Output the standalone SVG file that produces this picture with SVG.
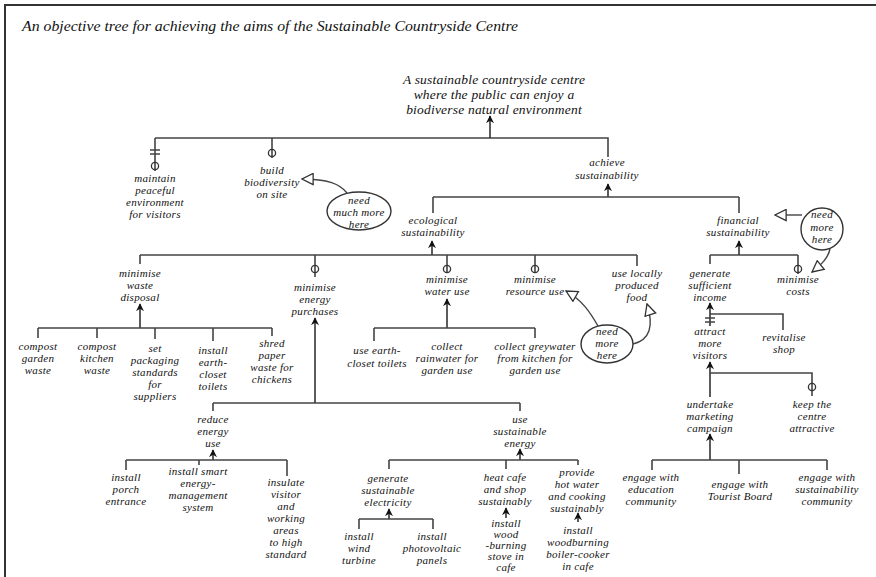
<svg xmlns="http://www.w3.org/2000/svg" width="876" height="577" viewBox="0 0 876 577">
  <style>
    .t { font-family: "Liberation Serif", "DejaVu Serif", serif; font-style: italic; font-size: 11px; letter-spacing: 0.3px; fill: #111; text-anchor: middle; }
    .big { font-size: 13.5px; letter-spacing: 0.2px; }
    .title { font-family: "Liberation Serif", "DejaVu Serif", serif; font-style: italic; font-size: 14px; fill: #111; }
    .ln { fill: none; stroke: #444; stroke-width: 1.6; }
    .ar { fill: none; stroke: #333; stroke-width: 1.6; marker-end: url(#arrow); }
    .note { fill: none; stroke: #444; stroke-width: 1.4; marker-end: url(#hollow); }
    .ring { fill: none; stroke: #333; stroke-width: 1.3; }
    .bubble { fill: #fff; stroke: #333; stroke-width: 1.4; }
  </style>
  <defs>
    <marker id="arrow" viewBox="0 0 10 10" refX="9" refY="5" markerWidth="8" markerHeight="8" markerUnits="userSpaceOnUse" orient="auto">
      <path d="M0,0 L10,5 L0,10 L3,5 z" fill="#111"/>
    </marker>
    <marker id="hollow" viewBox="0 0 14 14" refX="13" refY="7" markerWidth="13" markerHeight="13" markerUnits="userSpaceOnUse" orient="auto">
      <path d="M1,1 L13,7 L1,13 z" fill="#fff" stroke="#333" stroke-width="1.4"/>
    </marker>
  </defs>

  <rect width="876" height="577" fill="#fff"/>
  <!-- frame -->
  <path d="M5,577 V5 H876" fill="none" stroke="#333" stroke-width="2"/>

  <text class="title" x="22" y="31" textLength="496" lengthAdjust="spacingAndGlyphs">An  objective tree for achieving the aims of the Sustainable Countryside Centre</text>

  <g id="connectors">
    <!-- top level -->
    <path class="ln" d="M155,138 H608 V157 M155,138 V171 M272,138 V158"/>
    <path class="ar" d="M490,138 V116"/>
    <path class="ln" d="M150,150 H160 M150,154 H160"/>
    <circle class="ring" cx="155" cy="166" r="3.6"/>
    <circle class="ring" cx="272" cy="153" r="3.6"/>
    <!-- achieve sustainability -->
    <path class="ar" d="M608,197 V184"/>
    <path class="ln" d="M433,197 H739 M433,197 V213 M739,197 V213"/>
    <!-- ecological -->
    <path class="ar" d="M432,255 V241"/>
    <path class="ln" d="M140,255 H637 M140,255 V264 M315,255 V277 M447,255 V273 M535,255 V273 M637,255 V266"/>
    <circle class="ring" cx="315" cy="269" r="3.6"/>
    <circle class="ring" cx="447" cy="269" r="3.6"/>
    <circle class="ring" cx="535" cy="269" r="3.6"/>
    <!-- financial -->
    <path class="ar" d="M739,255 V241"/>
    <path class="ln" d="M710,255 H798 M710,255 V264 M798,255 V274"/>
    <circle class="ring" cx="798" cy="269" r="3.6"/>
    <!-- waste -->
    <path class="ar" d="M140,328 V304"/>
    <path class="ln" d="M38,328 H272 M38,328 V338 M97,328 V338 M155,328 V339 M213,328 V341 M272,328 V336"/>
    <!-- water -->
    <path class="ar" d="M447,328 V299"/>
    <path class="ln" d="M374,328 H535 M374,328 V341 M535,328 V338"/>
    <!-- energy purchases -->
    <path class="ar" d="M315,403 V318"/>
    <path class="ln" d="M213,403 H520 M213,403 V411 M520,403 V411"/>
    <!-- reduce energy use -->
    <path class="ar" d="M213,460 V450"/>
    <path class="ln" d="M126,460 H287 M126,460 V470 M199,460 V465 M287,460 V476"/>
    <!-- use sustainable energy -->
    <path class="ar" d="M520,460 V449"/>
    <path class="ln" d="M389,460 H578 M389,460 V469 M506,460 V469 M578,460 V465"/>
    <!-- generate sustainable electricity -->
    <path class="ar" d="M389,519 V509"/>
    <path class="ln" d="M359,519 H433 M359,519 V529 M433,519 V529"/>
    <path class="ar" d="M506,518 V508"/>
    <path class="ar" d="M578,522 V513"/>
    <!-- income -->
    <path class="ar" d="M710,326 V303"/>
    <path class="ln" d="M710,314 H783 V330 M705,318 H715 M705,322 H715"/>
    <!-- attract visitors -->
    <path class="ar" d="M710,397 V362"/>
    <path class="ln" d="M710,373 H812 V396"/>
    <circle class="ring" cx="812" cy="387" r="3.6"/>
    <!-- marketing -->
    <path class="ar" d="M710,460 V434"/>
    <path class="ln" d="M652,460 H827 M652,460 V470 M739,460 V474 M827,460 V470"/>
    <!-- notes -->
    <path class="note" d="M347,193 C340,184 328,179 302,179"/>
    <path class="note" d="M802,215 H775"/>
    <path class="note" d="M598,326 C590,312 582,300 566,291"/>
    <path class="note" d="M633,344 C650,340 654,326 647,304"/>
    <path class="note" d="M830,249 C828,258 822,264 812,272"/>
  </g>

  <g id="root">
    <text class="t big" x="494" y="84">A sustainable countryside centre</text>
    <text class="t big" x="494" y="99">where the public can enjoy a</text>
    <text class="t big" x="494" y="114">biodiverse natural environment</text>
  </g>
  <g id="maintain"><text class="t" x="155" y="182">maintain</text><text class="t" x="155" y="194">peaceful</text><text class="t" x="155" y="206">environment</text><text class="t" x="155" y="218">for visitors</text></g>
  <g id="build"><text class="t" x="272" y="174">build</text><text class="t" x="272" y="186">biodiversity</text><text class="t" x="272" y="198">on site</text></g>
  <g id="achieve"><text class="t" x="607" y="166">achieve</text><text class="t" x="607" y="179">sustainability</text></g>
  <g id="ecological"><text class="t" x="433" y="224">ecological</text><text class="t" x="433" y="236">sustainability</text></g>
  <g id="financial"><text class="t" x="738" y="224">financial</text><text class="t" x="738" y="236">sustainability</text></g>

  <g id="note-biodiversity">
    <ellipse class="bubble" cx="359" cy="211" rx="32" ry="19"/>
    <text class="t" x="359" y="204">need</text><text class="t" x="359" y="216">much more</text><text class="t" x="359" y="228">here</text>
  </g>
  <g id="note-financial">
    <ellipse class="bubble" cx="822" cy="229" rx="21" ry="21"/>
    <text class="t" x="822" y="218">need</text><text class="t" x="822" y="231">more</text><text class="t" x="822" y="243">here</text>
  </g>
  <g id="note-resources">
    <ellipse class="bubble" cx="607" cy="344" rx="26" ry="19"/>
    <text class="t" x="607" y="335">need</text><text class="t" x="607" y="347">more</text><text class="t" x="607" y="359">here</text>
  </g>

  <g id="waste"><text class="t" x="140" y="277">minimise</text><text class="t" x="140" y="289">waste</text><text class="t" x="140" y="301">disposal</text></g>
  <g id="energy"><text class="t" x="315" y="291">minimise</text><text class="t" x="315" y="303">energy</text><text class="t" x="315" y="315">purchases</text></g>
  <g id="water"><text class="t" x="447" y="283">minimise</text><text class="t" x="447" y="295">water use</text></g>
  <g id="resource"><text class="t" x="535" y="283">minimise</text><text class="t" x="535" y="295">resource use</text></g>
  <g id="food"><text class="t" x="637" y="277">use locally</text><text class="t" x="637" y="289">produced</text><text class="t" x="637" y="301">food</text></g>
  <g id="income"><text class="t" x="710" y="277">generate</text><text class="t" x="710" y="289">sufficient</text><text class="t" x="710" y="301">income</text></g>
  <g id="costs"><text class="t" x="798" y="283">minimise</text><text class="t" x="798" y="295">costs</text></g>

  <g id="compost-garden"><text class="t" x="38" y="350">compost</text><text class="t" x="38" y="362">garden</text><text class="t" x="38" y="374">waste</text></g>
  <g id="compost-kitchen"><text class="t" x="97" y="350">compost</text><text class="t" x="97" y="362">kitchen</text><text class="t" x="97" y="374">waste</text></g>
  <g id="packaging"><text class="t" x="155" y="352">set</text><text class="t" x="155" y="364">packaging</text><text class="t" x="155" y="376">standards</text><text class="t" x="155" y="388">for</text><text class="t" x="155" y="400">suppliers</text></g>
  <g id="earth-closet"><text class="t" x="213" y="354">install</text><text class="t" x="213" y="366">earth-</text><text class="t" x="213" y="378">closet</text><text class="t" x="213" y="390">toilets</text></g>
  <g id="shred"><text class="t" x="272" y="347">shred</text><text class="t" x="272" y="359">paper</text><text class="t" x="272" y="371">waste for</text><text class="t" x="272" y="383">chickens</text></g>

  <g id="use-closet"><text class="t" x="377" y="354">use earth-</text><text class="t" x="377" y="367">closet toilets</text></g>
  <g id="rainwater"><text class="t" x="447" y="350">collect</text><text class="t" x="447" y="362">rainwater for</text><text class="t" x="447" y="374">garden use</text></g>
  <g id="greywater"><text class="t" x="535" y="350">collect greywater</text><text class="t" x="535" y="362">from kitchen for</text><text class="t" x="535" y="374">garden use</text></g>

  <g id="attract"><text class="t" x="710" y="335">attract</text><text class="t" x="710" y="347">more</text><text class="t" x="710" y="359">visitors</text></g>
  <g id="shop"><text class="t" x="784" y="341">revitalise</text><text class="t" x="784" y="353">shop</text></g>
  <g id="marketing"><text class="t" x="710" y="408">undertake</text><text class="t" x="710" y="420">marketing</text><text class="t" x="710" y="432">campaign</text></g>
  <g id="attractive"><text class="t" x="812" y="408">keep the</text><text class="t" x="812" y="420">centre</text><text class="t" x="812" y="432">attractive</text></g>

  <g id="reduce"><text class="t" x="213" y="423">reduce</text><text class="t" x="213" y="435">energy</text><text class="t" x="213" y="447">use</text></g>
  <g id="sustainable-energy"><text class="t" x="520" y="423">use</text><text class="t" x="520" y="435">sustainable</text><text class="t" x="520" y="447">energy</text></g>

  <g id="porch"><text class="t" x="126" y="481">install</text><text class="t" x="126" y="493">porch</text><text class="t" x="126" y="505">entrance</text></g>
  <g id="smart"><text class="t" x="198" y="475">install smart</text><text class="t" x="198" y="487">energy-</text><text class="t" x="198" y="499">management</text><text class="t" x="198" y="511">system</text></g>
  <g id="insulate"><text class="t" x="286" y="486">insulate</text><text class="t" x="286" y="498">visitor</text><text class="t" x="286" y="510">and</text><text class="t" x="286" y="522">working</text><text class="t" x="286" y="534">areas</text><text class="t" x="286" y="546">to high</text><text class="t" x="286" y="558">standard</text></g>

  <g id="electricity"><text class="t" x="388" y="482">generate</text><text class="t" x="388" y="494">sustainable</text><text class="t" x="388" y="506">electricity</text></g>
  <g id="heat"><text class="t" x="505" y="481">heat cafe</text><text class="t" x="505" y="493">and shop</text><text class="t" x="505" y="505">sustainably</text></g>
  <g id="hot-water"><text class="t" x="577" y="476">provide</text><text class="t" x="577" y="488">hot water</text><text class="t" x="577" y="500">and cooking</text><text class="t" x="577" y="512">sustainably</text></g>
  <g id="wind"><text class="t" x="359" y="540">install</text><text class="t" x="359" y="552">wind</text><text class="t" x="359" y="564">turbine</text></g>
  <g id="photovoltaic"><text class="t" x="432" y="540">install</text><text class="t" x="432" y="552">photovoltaic</text><text class="t" x="432" y="564">panels</text></g>
  <g id="stove"><text class="t" x="506" y="527">install</text><text class="t" x="506" y="538">wood</text><text class="t" x="506" y="549">-burning</text><text class="t" x="506" y="560">stove in</text><text class="t" x="506" y="571">cafe</text></g>
  <g id="boiler"><text class="t" x="578" y="534">install</text><text class="t" x="578" y="546">woodburning</text><text class="t" x="578" y="558">boiler-cooker</text><text class="t" x="578" y="570">in cafe</text></g>

  <g id="education"><text class="t" x="651" y="481">engage with</text><text class="t" x="651" y="493">education</text><text class="t" x="651" y="505">community</text></g>
  <g id="tourist"><text class="t" x="740" y="488">engage with</text><text class="t" x="740" y="500">Tourist Board</text></g>
  <g id="sustainability-community"><text class="t" x="827" y="481">engage with</text><text class="t" x="827" y="493">sustainability</text><text class="t" x="827" y="505">community</text></g>
</svg>
